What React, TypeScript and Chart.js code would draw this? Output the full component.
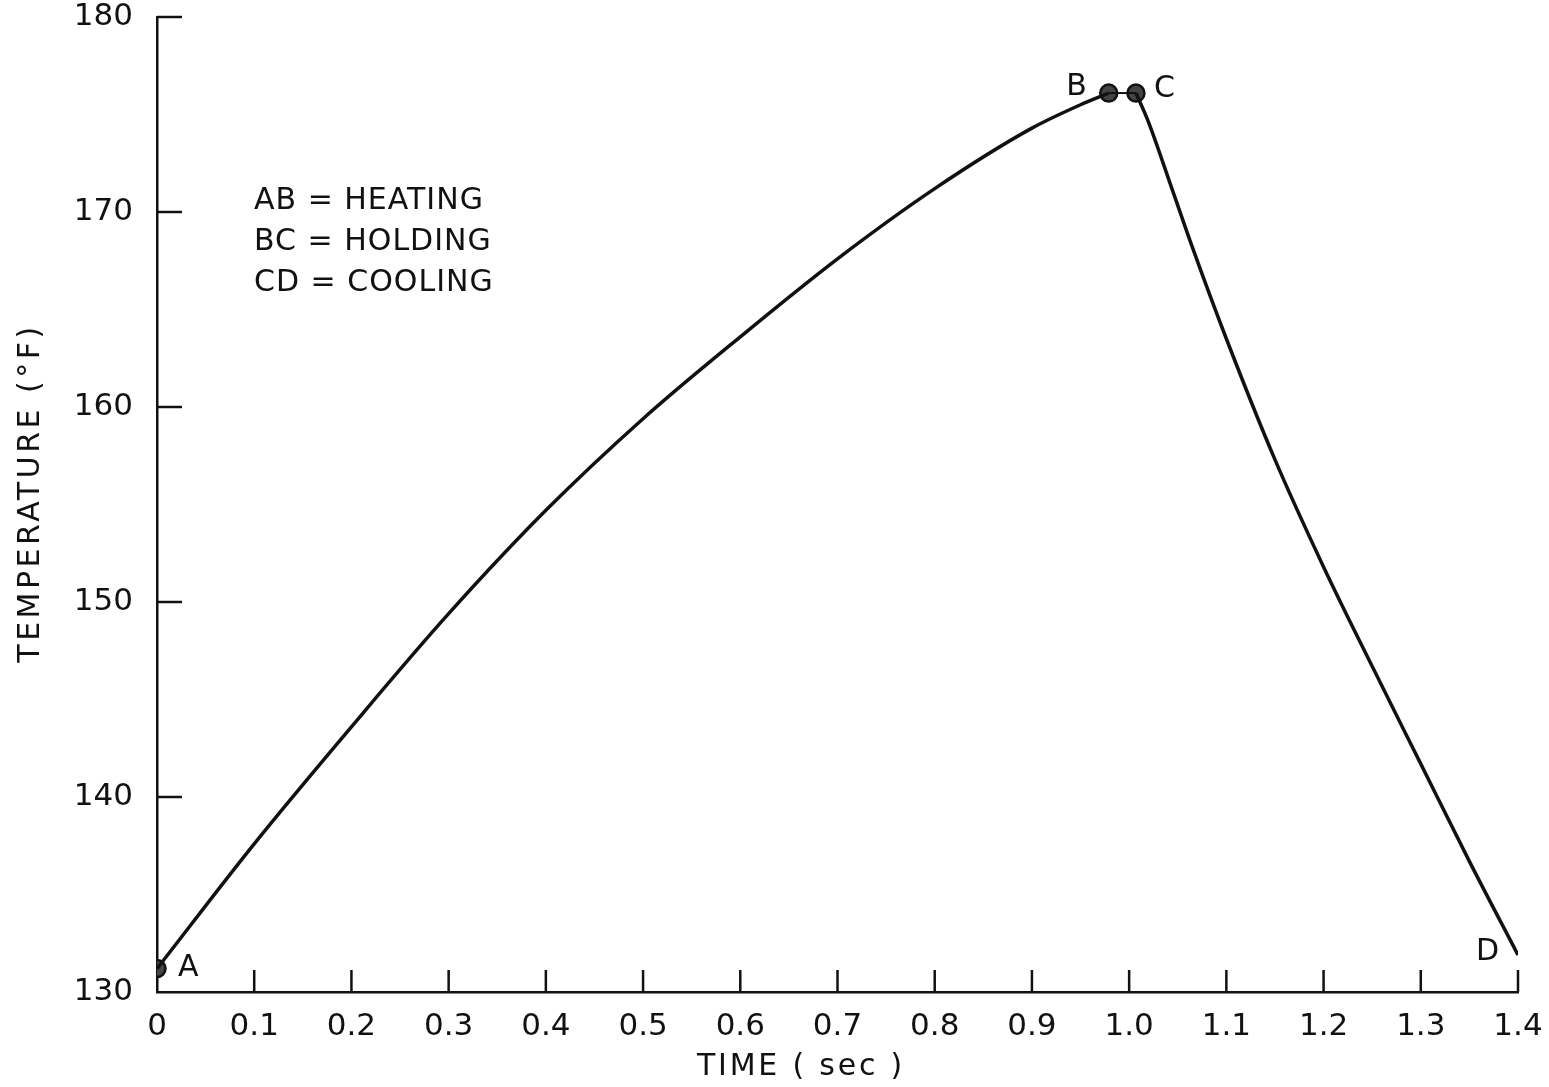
import React, { useEffect, useRef } from "react";
import { Chart, registerables } from "chart.js";

Chart.register(...registerables);

// ---- data ----
const heatTime = [0, 0.1, 0.2, 0.3, 0.4, 0.5, 0.6, 0.7, 0.8, 0.9, 0.95, 0.979];
const heatTemp = [131.2, 137.6, 143.6, 149.4, 154.7, 159.4, 163.6, 167.6, 171.2, 174.3, 175.5, 176.1];
const holdTime = [0.979, 1.007];
const holdTemp = [176.1, 176.1];
const coolTime = [1.007, 1.02, 1.044, 1.065, 1.1, 1.15, 1.2, 1.25, 1.3, 1.35, 1.4];
const coolTemp = [176.1, 174.6, 171.2, 168.2, 163.5, 157.3, 151.8, 146.7, 141.7, 136.7, 131.9];

const pointNames = ["A", "B", "C", "D"];
const pointTime = [0, 0.979, 1.007, 1.4];
const pointTemp = [131.2, 176.1, 176.1, 131.9];
const markedPoints = ["A", "B", "C"];

const xTicks = [0, 0.1, 0.2, 0.3, 0.4, 0.5, 0.6, 0.7, 0.8, 0.9, 1.0, 1.1, 1.2, 1.3, 1.4];
const xTickLabels = ["0", "0.1", "0.2", "0.3", "0.4", "0.5", "0.6", "0.7", "0.8", "0.9", "1.0", "1.1", "1.2", "1.3", "1.4"];
const yTicks = [130, 140, 150, 160, 170, 180];
const yTickLabels = ["130", "140", "150", "160", "170", "180"];

const legendLines = ["AB = HEATING", "BC = HOLDING", "CD = COOLING"];
const xTitle = "TIME ( sec )";
const yTitle = "TEMPERATURE (°F)";

const INK = "#111111";
const FONT = "'DejaVu Sans', sans-serif";

const annotatePlugin = {
  id: "annotate",
  afterDraw(chart: any) {
    const { ctx } = chart;
    const xs = chart.scales.x;
    const ys = chart.scales.y;
    ctx.save();
    ctx.strokeStyle = INK;
    ctx.lineWidth = 2.5;
    ctx.lineCap = "butt";
    // inward tick marks on y axis
    yTicks.forEach((v) => {
      if (v === ys.min) return;
      const y = ys.getPixelForValue(v);
      ctx.beginPath();
      ctx.moveTo(xs.left, y);
      ctx.lineTo(xs.left + 25, y);
      ctx.stroke();
    });
    // inward tick marks on x axis
    xTicks.forEach((v) => {
      if (v === xs.min) return;
      const x = xs.getPixelForValue(v);
      ctx.beginPath();
      ctx.moveTo(x, ys.bottom);
      ctx.lineTo(x, ys.bottom - 22);
      ctx.stroke();
    });
    // point letters
    ctx.fillStyle = INK;
    ctx.font = `30px ${FONT}`;
    ctx.textBaseline = "middle";
    const offsets: Record<string, [number, number, CanvasTextAlign]> = {
      A: [21, 0, "left"],
      B: [-22, -6, "right"],
      C: [18, -4, "left"],
      D: [-19, -3, "right"],
    };
    pointNames.forEach((n, i) => {
      const x = xs.getPixelForValue(pointTime[i]);
      const y = ys.getPixelForValue(pointTemp[i]);
      const [dx, dy, al] = offsets[n];
      ctx.textAlign = al;
      ctx.fillText(n, x + dx, y + dy);
    });
    // phase legend
    ctx.textAlign = "left";
    ctx.font = `30px ${FONT}`;
    (ctx as any).letterSpacing = "1px";
    legendLines.forEach((t, i) => {
      ctx.fillText(t, 254, 201 + i * 41);
    });
    // axis titles
    ctx.textAlign = "center";
    (ctx as any).letterSpacing = "2.8px";
    ctx.fillText(xTitle, 801, 1067);
    ctx.save();
    ctx.translate(31, 493);
    ctx.rotate(-Math.PI / 2);
    (ctx as any).letterSpacing = "3.5px";
    ctx.fillText(yTitle, 0, 0);
    ctx.restore();
    (ctx as any).letterSpacing = "0px";
    ctx.restore();
  },
};

export default function App() {
  const ref = useRef<HTMLCanvasElement | null>(null);
  useEffect(() => {
    if (!ref.current) return;
    const toPts = (ts: number[], vs: number[]) => ts.map((t, i) => ({ x: t, y: vs[i] }));
    const marks = pointNames
      .map((n, i) => ({ n, x: pointTime[i], y: pointTemp[i] }))
      .filter((p) => markedPoints.includes(p.n))
      .map((p) => ({ x: p.x, y: p.y }));
    const lineStyle = {
      borderColor: INK,
      pointRadius: 0,
      cubicInterpolationMode: "monotone" as const,
      fill: false,
    };
    const chart = new Chart(ref.current, {
      type: "line",
      data: {
        datasets: [
          { ...lineStyle, data: toPts(heatTime, heatTemp), borderWidth: 3.5 },
          { ...lineStyle, data: toPts(holdTime, holdTemp), borderWidth: 2 },
          { ...lineStyle, data: toPts(coolTime, coolTemp), borderWidth: 3.5 },
          {
            type: "scatter",
            data: marks,
            pointRadius: 8.5,
            pointBackgroundColor: "#444444",
            pointBorderColor: INK,
            pointBorderWidth: 2.5,
            showLine: false,
          } as any,
        ],
      },
      plugins: [annotatePlugin],
      options: {
        animation: false,
        responsive: true,
        maintainAspectRatio: false,
        layout: { padding: 0 },
        plugins: { legend: { display: false }, tooltip: { enabled: false } },
        scales: {
          x: {
            type: "linear",
            min: 0,
            max: 1.4,
            afterBuildTicks: (s: any) => {
              s.ticks = xTicks.map((v) => ({ value: v }));
            },
            afterFit: (s: any) => {
              s.height = 95;
              s.paddingLeft = 0;
              s.paddingRight = 31;
            },
            ticks: {
              autoSkip: false,
              maxRotation: 0,
              padding: 16,
              color: INK,
              font: { family: FONT, size: 31 },
              callback: (v: any) => {
                const i = xTicks.findIndex((t) => Math.abs(t - Number(v)) < 1e-6);
                return i >= 0 ? xTickLabels[i] : "";
              },
            },
            grid: { display: true, drawOnChartArea: false, drawTicks: false },
            border: { display: true, color: INK, width: 2.5 },
            title: { display: false },
          },
          y: {
            type: "linear",
            min: 130,
            max: 180,
            afterBuildTicks: (s: any) => {
              s.ticks = yTicks.map((v) => ({ value: v }));
            },
            afterFit: (s: any) => {
              s.width = 157;
              s.paddingTop = 17;
              s.paddingBottom = 0;
            },
            ticks: {
              padding: 24,
              color: INK,
              font: { family: FONT, size: 31 },
              callback: (v: any) => {
                const i = yTicks.indexOf(Number(v));
                return i >= 0 ? yTickLabels[i] : "";
              },
            },
            grid: { display: true, drawOnChartArea: false, drawTicks: false },
            border: { display: true, color: INK, width: 2.5 },
            title: { display: false },
          },
        },
      },
    });
    return () => chart.destroy();
  }, []);
  return (
    <div style={{ position: "absolute", left: 0, top: 0, width: 1549, height: 1087, background: "#fff" }}>
      <canvas ref={ref} />
    </div>
  );
}
